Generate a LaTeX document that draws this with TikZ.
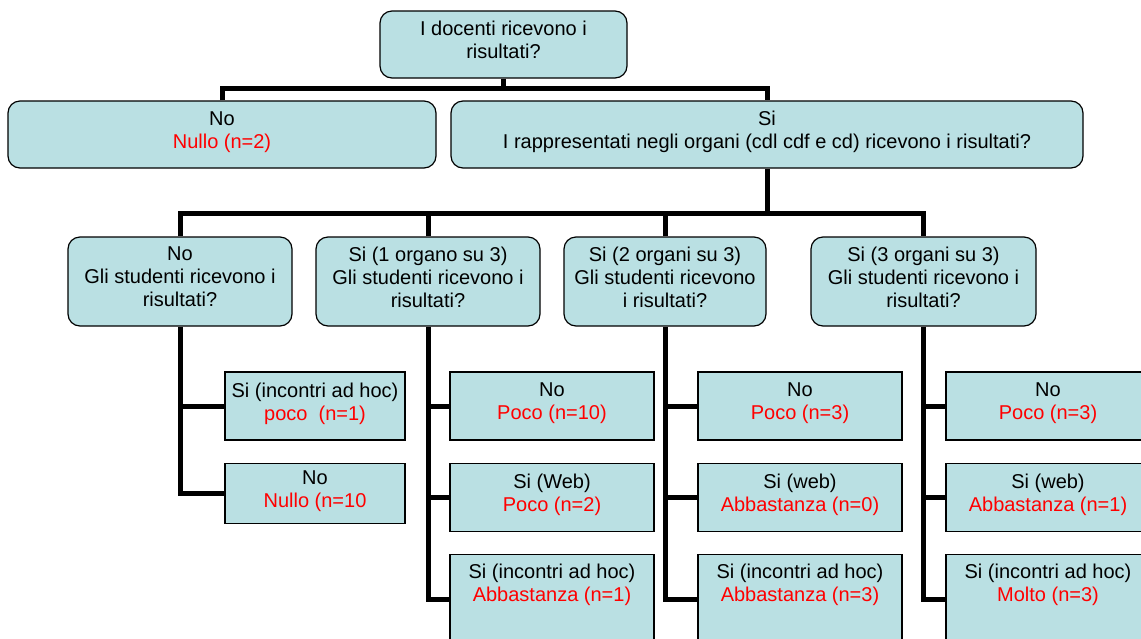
\documentclass[tikz,border=0pt]{standalone}
\usepackage{fontspec}
\setmainfont{Liberation Sans}
\usepackage{xcolor}
\usepackage{tikz}
\usetikzlibrary{positioning}
\definecolor{boxfill}{RGB}{186,224,227}
\definecolor{rosso}{RGB}{255,0,0}
\newcommand{\esito}[1]{\textcolor{rosso}{#1}}
\newcommand{\fondo}[2]{\parbox[c][70pt][t]{190pt}{\centering #1\\\esito{#2}}}

\begin{document}
\begin{tikzpicture}[
  x=1pt, y=-1pt,
  font=\fontsize{20}{23}\selectfont,
  node distance=22pt,
  box/.style={draw, fill=boxfill, rounded corners=12pt, line width=1.2pt, align=center, inner sep=4pt, text depth=9pt},
  mid/.style={box, minimum height=89pt},
  leaf/.style={draw, fill=boxfill, line width=1.2pt, align=center, inner sep=4pt, text depth=9pt, minimum width=204pt, minimum height=68pt},
  tall/.style={minimum height=0pt, inner ysep=10pt, text depth=},
  link/.style={line width=5pt}
]
  \useasboundingbox (0,0) rectangle (1141,638);
  \clip (0,0) rectangle (1141,638);

  \node[box, minimum width=247pt, minimum height=67pt] (docenti) at (503.5,44.5) {I docenti ricevono i\\risultati?};
  \node[box, minimum width=428pt, minimum height=67pt] (no) at (222,134.5) {No\\\esito{Nullo (n=2)}};
  \node[box, minimum width=632pt, minimum height=67pt] (si) at (767,134.5) {Si\\I rappresentati negli organi (cdl cdf e cd) ricevono i risultati?};

  \node[mid, minimum width=224pt] (zero) at (180,281.5) {No\\Gli studenti ricevono i\\risultati?};
  \node[mid, minimum width=224pt] (uno) at (428,281.5) {Si (1 organo su 3)\\Gli studenti ricevono i\\risultati?};
  \node[mid, minimum width=202pt] (due) at (665,281.5) {Si (2 organi su 3)\\Gli studenti ricevono\\i risultati?};
  \node[mid, minimum width=225pt] (tre) at (923.5,281.5) {Si (3 organi su 3)\\Gli studenti ricevono i\\risultati?};

  % esiti
  \node[leaf, minimum width=180pt] (zero1) at (315,406) {Si (incontri ad hoc)\\\esito{poco~ (n=1)}};
  \node[leaf, minimum width=180pt, minimum height=60pt, below=of zero1] (zero2) {No\\\esito{Nullo (n=10}};

  \node[leaf] (uno1) at (552,406) {No\\\esito{Poco (n=10)}};
  \node[leaf, below=of uno1] (uno2) {Si (Web)\\\esito{Poco (n=2)}};
  \node[leaf, tall, below=of uno2] (uno3) {\fondo{Si (incontri ad hoc)}{Abbastanza (n=1)}};

  \node[leaf] (due1) at (800,406) {No\\\esito{Poco (n=3)}};
  \node[leaf, below=of due1] (due2) {Si (web)\\\esito{Abbastanza (n=0)}};
  \node[leaf, tall, below=of due2] (due3) {\fondo{Si (incontri ad hoc)}{Abbastanza (n=3)}};

  \node[leaf] (tre1) at (1048,406) {No\\\esito{Poco (n=3)}};
  \node[leaf, below=of tre1] (tre2) {Si (web)\\\esito{Abbastanza (n=1)}};
  \node[leaf, tall, below=of tre2] (tre3) {\fondo{Si (incontri ad hoc)}{Molto (n=3)}};

  % albero
  \draw[link] (docenti.south) -- ++(0,10) coordinate (bus1);
  \draw[link] (no.north) |- (bus1) -| (si.north);
  \draw[link] (si.south) -- ++(0,45) coordinate (bus2);
  \draw[link] (zero.north) |- (bus2) -| (tre.north);
  \draw[link] (uno.north) -- (uno.north |- bus2);
  \draw[link] (due.north) -- (due.north |- bus2);

  \draw[link] (zero.south) |- (zero2.west);
  \draw[link] (zero1.west) -- (zero1.west -| zero.south);
  \draw[link] (uno.south) |- (uno3.west);
  \draw[link] (uno1.west) -- (uno1.west -| uno.south);
  \draw[link] (uno2.west) -- (uno2.west -| uno.south);
  \draw[link] (due.south) |- (due3.west);
  \draw[link] (due1.west) -- (due1.west -| due.south);
  \draw[link] (due2.west) -- (due2.west -| due.south);
  \draw[link] (tre.south) |- (tre3.west);
  \draw[link] (tre1.west) -- (tre1.west -| tre.south);
  \draw[link] (tre2.west) -- (tre2.west -| tre.south);
\end{tikzpicture}
\end{document}
